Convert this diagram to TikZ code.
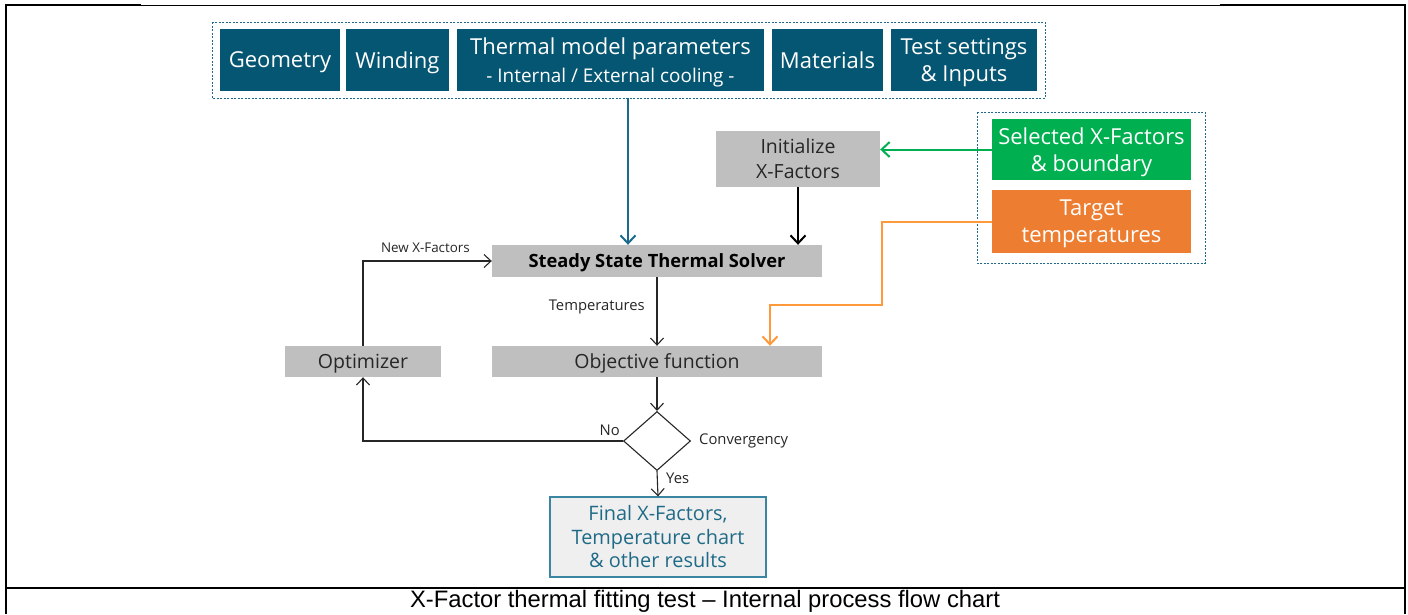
\documentclass[tikz,border=0pt]{standalone}
\usepackage{fontspec}
\setmainfont{Open Sans}
\newfontfamily\capfont{Liberation Sans}
\usetikzlibrary{shapes.geometric,arrows.meta,calc}
\definecolor{teal}{HTML}{055672}
\definecolor{dashblue}{HTML}{1F6A8A}
\definecolor{boxgray}{HTML}{BFBFBF}
\definecolor{xgreen}{HTML}{00B050}
\definecolor{xorange}{HTML}{ED7D31}
\definecolor{lineorange}{HTML}{FF9A3C}
\definecolor{arrblue}{HTML}{1B6A8C}
\definecolor{finalfill}{HTML}{EFEFEF}
\definecolor{finalborder}{HTML}{3A86A0}
\definecolor{finaltext}{HTML}{1F6B87}
\definecolor{darktext}{HTML}{262626}
\tikzset{
  topbox/.style={fill=teal, text=white, inner sep=0pt, minimum height=62pt, align=center,
    text depth=0pt, font=\fontsize{22}{27}\selectfont},
  graybox/.style={fill=boxgray, text=darktext, inner sep=0pt, align=center,
    font=\fontsize{19.5}{25}\selectfont},
  colbox/.style={text=white, inner sep=0pt, align=center, minimum width=199pt,
    text depth=0pt, font=\fontsize{22}{27}\selectfont},
  dashbox/.style={draw=dashblue, dashed, dash pattern=on 2pt off 1.5pt, line width=1pt},
  thinarr/.style={draw=darktext, line width=1.1pt, -{Straight Barb[length=7pt,width=13pt,line width=1.1pt]}},
  small/.style={font=\fontsize{14.8}{16}\selectfont, text=darktext, inner sep=0pt},
}
\begin{document}
\begin{tikzpicture}[x=1pt,y=-1pt]
\useasboundingbox (0,0) rectangle (1408,614);
% frame
\draw[line width=2.5pt] (6,4) -- (6,614);
\draw[line width=2.5pt] (1405,4) -- (1405,614);
\draw[line width=2pt] (5,5) -- (141,5);
\draw[line width=1pt] (141,5) -- (1220,5);
\draw[line width=2pt] (1220,5) -- (1406,5);
\draw[line width=2.5pt] (6,588) -- (1405,588);
\node[font=\capfont\fontsize{23.8}{25}\selectfont, inner sep=0pt] (cap) at (705,601.5) {X-Factor thermal fitting test – Internal process flow chart};

% top inputs
\draw[dashbox] (212,22) rectangle (1045,98);
\coordinate (tbs) at (628,98);
\node[topbox, minimum width=120pt] (geo) at (280,60) {Geometry};
\node[topbox, minimum width=103pt] (win) at (397.5,60) {Winding};
\node[topbox, minimum width=307pt] (therm) at (610.5,60) {Thermal model parameters\\[1pt]{\fontsize{18.9}{20}\selectfont - Internal / External cooling -}};
\node[topbox, minimum width=111pt] (mat) at (827.5,60) {Materials};
\node[topbox, minimum width=146pt] (test) at (964,60) {Test settings\\\& Inputs};

% right inputs
\draw[dashbox] (977,112) rectangle (1205,263);
\node[colbox, fill=xgreen, minimum height=61pt] (green) at (1091.5,149.5) {Selected X-Factors\\\& boundary};
\node[colbox, fill=xorange, minimum height=63pt] (orange) at (1091.5,221.5) {Target\\temperatures};

% process
\node[graybox, minimum width=164pt, minimum height=56pt] (init) at (798,159) {Initialize\\X-Factors};
\node[graybox, minimum width=330pt, minimum height=32pt, text=black, text depth=0pt, font=\bfseries\fontsize{18.3}{22}\selectfont] (solver) at (657,261) {Steady State Thermal Solver};
\node[graybox, minimum width=330pt, minimum height=31pt, text depth=0pt] (obj) at (657,361.5) {Objective function};
\node[graybox, minimum width=156pt, minimum height=31pt, text depth=0pt] (opt) at (363,361.5) {Optimizer};
\node[diamond, draw=darktext, line width=1.1pt, minimum width=67pt, minimum height=59pt, inner sep=0pt] (dia) at (657,441) {};
\node[fill=finalfill, draw=finalborder, line width=1.2pt, text=finaltext, align=center, inner sep=0pt,
  minimum width=216pt, minimum height=80pt, font=\fontsize{19.9}{23.5}\selectfont] (final) at (658,537)
  {Final X-Factors,\\Temperature chart\\\& other results};

% connectors
\coordinate (bx) at (628,0);
\draw[draw=arrblue, line width=2pt, -{Straight Barb[length=8pt,width=15pt,line width=2pt]}] (tbs) -- (solver.north -| bx);
\draw[draw=black, line width=2pt, -{Straight Barb[length=8pt,width=15pt,line width=2pt]}] (init.south) -- (init.south |- solver.north);
\draw[draw=xgreen, line width=2pt, -{Straight Barb[length=8pt,width=15pt,line width=2pt]}] (green.west) -- (green.west -| init.east);
\coordinate (o1) at (882,305);
\coordinate (o2) at (770,0);
\draw[draw=lineorange, line width=2pt, -{Straight Barb[length=8pt,width=15pt,line width=2pt]}] (orange.west) -| (o1) -| (obj.north -| o2);
\draw[thinarr] (solver.south) -- (obj.north);
\node[small, anchor=east] (ltemp) at (645,307) {Temperatures};
\draw[thinarr] (opt.north) |- (solver.west);
\node[small, anchor=east, font=\fontsize{13.4}{16}\selectfont] (lnew) at (470,248) {New X-Factors};
\draw[thinarr] (obj.south) -- (dia.north);
\draw[thinarr] (dia.west) -| (opt.south);
\node[small, anchor=south east] (lno) at (620,436) {No};
\node[small, anchor=west] (lconv) at (699,441) {Convergency};
\draw[thinarr] (dia.south) -- (final.north);
\node[small, anchor=west] (lyes) at (666,478) {Yes};
\end{tikzpicture}
\end{document}
